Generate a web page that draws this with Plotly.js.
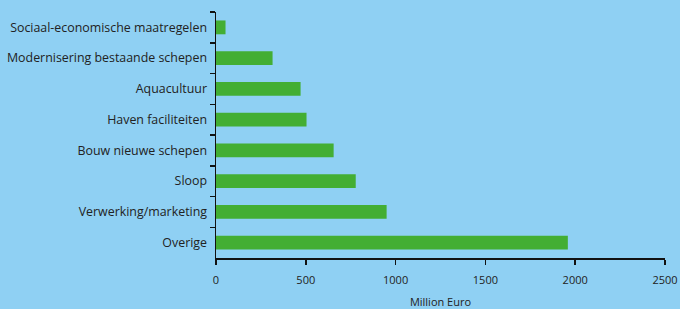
<!DOCTYPE html>
<html>
<head>
<meta charset="utf-8">
<script src="https://cdn.plot.ly/plotly-3.0.1.min.js"></script>
<style>html,body{margin:0;padding:0;background:#8FD0F3;}</style>
</head>
<body>
<div id="chart" style="width:680px;height:309px;"></div>
<script>
const categories = ["Sociaal-economische maatregelen","Modernisering bestaande schepen","Aquacultuur","Haven faciliteiten","Bouw nieuwe schepen","Sloop","Verwerking/marketing","Overige"];
const values = [53, 315, 471, 504, 655, 778, 950, 1959];
const xTicks = [0, 500, 1000, 1500, 2000, 2500];

const trace = {
  type: 'bar',
  orientation: 'h',
  y: categories,
  x: values,
  width: 0.45,
  marker: {color: '#43AE33'},
  hoverinfo: 'skip'
};

const layout = {
  width: 680, height: 309,
  paper_bgcolor: '#8FD0F3',
  plot_bgcolor: '#8FD0F3',
  margin: {l: 216, r: 15, t: 12, b: 51, pad: 0},
  showlegend: false,
  font: {family: 'Open Sans, sans-serif', color: '#222'},
  xaxis: {
    range: [0, 2500],
    tickvals: xTicks,
    ticktext: xTicks.map(String),
    showgrid: false, zeroline: false,
    showline: true, linecolor: '#111', linewidth: 1.5,
    ticks: 'outside', ticklen: 5, tickcolor: '#111', tickwidth: 1.5,
    ticklabelstandoff: 6,
    tickfont: {size: 11, color: '#222'},
    title: {text: 'Million Euro', font: {size: 11, color: '#222'}, standoff: 18}
  },
  yaxis: {
    type: 'category',
    categoryorder: 'array',
    categoryarray: categories,
    autorange: 'reversed',
    showgrid: false, zeroline: false,
    showline: true, linecolor: '#111', linewidth: 1.5,
    ticks: 'outside', ticklen: 5, tickcolor: '#111', tickwidth: 1.5,
    tickson: 'boundaries',
    ticklabelstandoff: 5,
    tickfont: {size: 12.4, color: '#222'}
  }
};

Plotly.newPlot('chart', [trace], layout, {displayModeBar: false, staticPlot: true});
</script>
</body>
</html>
